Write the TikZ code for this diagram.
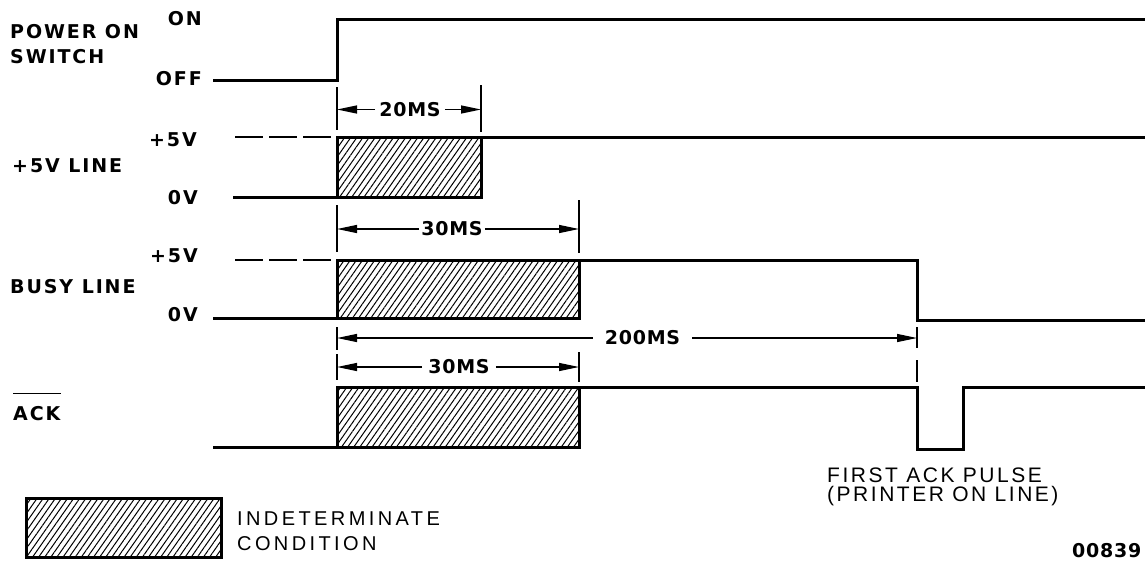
\documentclass[tikz,border=0pt]{standalone}
\usepackage{fontspec}
\setmainfont{Liberation Sans}
\newfontfamily\sigfont[LetterSpace=10]{DejaVu Sans}
\newfontfamily\dimfont[LetterSpace=4]{DejaVu Sans}
\newfontfamily\notefont[LetterSpace=12]{Liberation Sans}
\usetikzlibrary{arrows.meta,patterns.meta}

\newcommand*{\tpow}{337}
\newcommand*{\tfive}{481}
\newcommand*{\tbusy}{579}
\newcommand*{\tack}{917}
\newcommand*{\tpulse}{963}
\newcommand*{\xend}{1145}

\begin{document}
\begin{tikzpicture}
[
	x=1pt,
	y=-1pt,
	signal/.style={line width=3pt,line join=miter},
	levelmark/.style={line width=2pt,dash pattern=on 28pt off 6pt},
	indet/.style={line width=3pt,pattern={Lines[angle=55,distance=5pt,line width=1pt]}},
	dimline/.style={line width=1.3pt},
	dimarrow/.style={dimline,-{Triangle[length=20pt,width=8pt]}},
	siglabel/.style={font=\sigfont\bfseries\fontsize{19}{22}\selectfont,inner sep=0pt,anchor=base west},
	levlabel/.style={font=\sigfont\bfseries\fontsize{19}{22}\selectfont,inner sep=0pt,anchor=east},
	dimlabel/.style={font=\dimfont\bfseries\fontsize{19}{22}\selectfont,inner ysep=0pt},
	note/.style={font=\notefont\fontsize{21}{19}\selectfont,align=left,inner sep=0pt,anchor=north west}
]

	\useasboundingbox (0,0) rectangle (\xend,560);

	% signal names
	\node[siglabel] (pwr1) at (10,38) {POWER ON};
	\node[siglabel] (pwr2) at (10,63) {SWITCH};
	\node[siglabel] (fivelbl) at (12,172) {+5V LINE};
	\node[siglabel] (busylbl) at (10,293) {BUSY LINE};
	\node[siglabel] (acklbl) at (13,420) {ACK};
	\draw[line width=1.5pt] ([yshift=12pt]acklbl.north west) -- ([yshift=12pt]acklbl.north east);

	\node[levlabel] (on) at (202,19) {ON};
	\node[levlabel] (off) at (202,78.5) {OFF};
	\node[levlabel] (hifive) at (197,140) {+5V};
	\node[levlabel] (lofive) at (198,197.5) {0V};
	\node[levlabel] (hibusy) at (198,256) {+5V};
	\node[levlabel] (lobusy) at (198,315) {0V};

	% power on switch
	\draw[signal] (213,80) -- (\tpow,80) -- (\tpow,19) -- (\xend,19);

	% +5V line
	\draw[levelmark] (235,137) -- (332,137);
	\draw[indet] (\tpow,137) rectangle (\tfive,197);
	\draw[signal] (233,197) -- (\tpow,197);
	\draw[signal] (\tfive,137) -- (\xend,137);

	% busy line
	\draw[levelmark] (235,260) -- (332,260);
	\draw[indet] (\tpow,260) rectangle (\tbusy,318);
	\draw[signal] (213,318) -- (\tpow,318);
	\draw[signal] (\tbusy,260) -- (\tack,260) -- (\tack,320) -- (\xend,320);

	% ack
	\draw[indet] (\tpow,387) rectangle (\tbusy,447);
	\draw[signal] (213,447) -- (\tpow,447);
	\draw[signal] (\tbusy,387) -- (\tack,387) -- (\tack,449) -- (\tpulse,449) -- (\tpulse,387) -- (\xend,387);

	% timing marks
	\draw[dimline] (\tpow,87) -- (\tpow,130);
	\draw[dimline] (\tfive,85) -- (\tfive,132);
	\coordinate (l20) at (\tpow,109.5);
	\coordinate (r20) at (\tfive,109.5);
	\node[dimlabel,inner xsep=4pt] (d20) at (410,109.5) {20MS};
	\draw[dimarrow] (d20) -- (l20);
	\draw[dimarrow] (d20) -- (r20);

	\draw[dimline] (\tpow,205) -- (\tpow,252);
	\draw[dimline] (\tbusy,200) -- (\tbusy,253);
	\coordinate (l30) at (\tpow,229);
	\coordinate (r30) at (\tbusy,229);
	\node[dimlabel,inner xsep=2pt] (d30) at (452,229) {30MS};
	\draw[dimarrow] (d30) -- (l30);
	\draw[dimarrow] (d30) -- (r30);

	\draw[dimline] (\tpow,327) -- (\tpow,350);
	\draw[dimline] (\tack,327) -- (\tack,348);
	\draw[dimline] (\tack,360) -- (\tack,382);
	\coordinate (l200) at (\tpow,338);
	\coordinate (r200) at (\tack,338);
	\node[dimlabel,inner xsep=12pt] (d200) at (642.5,338) {200MS};
	\draw[dimarrow] (d200) -- (l200);
	\draw[dimarrow] (d200) -- (r200);

	\draw[dimline] (\tpow,354) -- (\tpow,380);
	\draw[dimline] (\tbusy,352) -- (\tbusy,382);
	\coordinate (lack) at (\tpow,367);
	\coordinate (rack) at (\tbusy,367);
	\node[dimlabel,inner xsep=6pt] (dack) at (459,367) {30MS};
	\draw[dimarrow] (dack) -- (lack);
	\draw[dimarrow] (dack) -- (rack);

	% notes
	\node[note] (firstack) at (827,468) {FIRST ACK PULSE\\(PRINTER ON LINE)};

	\draw[indet] (26,498) rectangle (221,557);
	\node[note,font=\notefont\addfontfeature{LetterSpace=17}\fontsize{20}{25}\selectfont] (legend) at (237,512) {INDETERMINATE\\CONDITION};

	\node[dimlabel,inner sep=0pt,anchor=north west] (figno) at (1072,543) {00839};

\end{tikzpicture}
\end{document}
